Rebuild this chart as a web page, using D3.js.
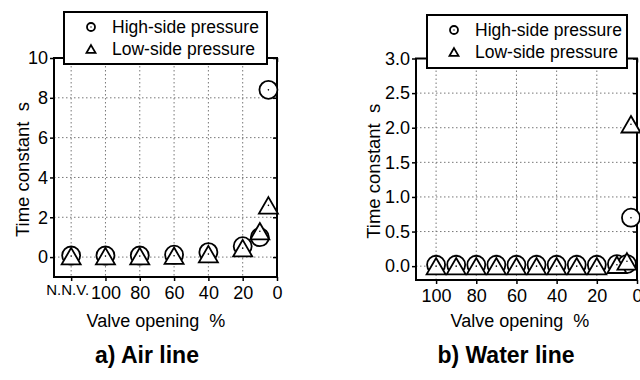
<!DOCTYPE html>
<html>
<head>
<meta charset="utf-8">
<script src="https://cdn.jsdelivr.net/npm/d3@7"></script>
<style>
  body { margin: 0; background: #fff; }
  svg { display: block; font-family: "Liberation Sans", Arial, sans-serif; }
  svg text { white-space: pre; }
  .grid line { stroke: #777; stroke-width: 1; stroke-dasharray: 1.5 2.5; }
</style>
</head>
<body>
<svg id="chart" width="640" height="380"></svg>
<script>
// ---- data ----
// a) Air line ; 120 stands for the N.N.V. slot (no needle valve)
const airOpening = [120, 100, 80, 60, 40, 20, 10, 5];
const airHigh = [0.08, 0.08, 0.08, 0.12, 0.25, 0.55, 1.0, 8.4];
const airLow = [0.05, 0.05, 0.05, 0.07, 0.15, 0.45, 1.3, 2.6];
const airTicks = [120, 100, 80, 60, 40, 20, 0];
const airTickLabels = ['N.N.V.', '100', '80', '60', '40', '20', '0'];
const airYTicks = [0, 2, 4, 6, 8, 10];

// b) Water line
const waterOpening = [100, 90, 80, 70, 60, 50, 40, 30, 20, 10, 5, 3];
const waterHigh = [0.02, 0.02, 0.02, 0.02, 0.02, 0.02, 0.02, 0.02, 0.02, 0.03, 0.03, 0.70];
const waterLow = [0.0, 0.0, 0.0, 0.0, 0.0, 0.0, 0.0, 0.0, 0.0, 0.02, 0.07, 2.05];
const waterTicks = [100, 80, 60, 40, 20, 0];
const waterYTicks = [0, 0.5, 1.0, 1.5, 2.0, 2.5, 3.0];

const legendNames = ['High-side pressure', 'Low-side pressure'];

const svg = d3.select('#chart');

function triPath(cx, cy, s) {
  const h = s * Math.sqrt(3) / 2;
  return 'M' + cx + ',' + (cy - h / 2) + 'L' + (cx + s / 2) + ',' + (cy + h / 2) +
    'L' + (cx - s / 2) + ',' + (cy + h / 2) + 'Z';
}

function drawPanel(p) {
  const g = svg.append('g');
  const x = d3.scaleLinear().domain(p.xDomain).range([p.left, p.right]);
  const y = d3.scaleLinear().domain(p.yDomain).range([p.bottom, p.top]);

  // grid (dotted), skip the ticks that sit on the frame
  g.append('g').attr('class', 'grid')
    .selectAll('line').data(p.xTicks.filter(d => d !== p.xDomain[1])).enter().append('line')
    .attr('x1', d => x(d)).attr('x2', d => x(d))
    .attr('y1', p.top).attr('y2', p.bottom);
  g.append('g').attr('class', 'grid')
    .selectAll('line').data(p.yTicks.filter(d => d !== p.yDomain[1])).enter().append('line')
    .attr('x1', p.left).attr('x2', p.right)
    .attr('y1', d => y(d)).attr('y2', d => y(d));

  // axes
  const ax = g.append('g').attr('transform', 'translate(0,' + p.bottom + ')')
    .call(d3.axisBottom(x).tickValues(p.xTicks).tickSize(4).tickPadding(5)
      .tickFormat((d, i) => p.xLabels[i]));
  const ay = g.append('g').attr('transform', 'translate(' + p.left + ',0)')
    .call(d3.axisLeft(y).tickValues(p.yTicks).tickSize(4).tickPadding(2)
      .tickFormat(p.yFormat));
  g.append('g').attr('transform', 'translate(' + p.right + ',0)')
    .call(d3.axisRight(y).tickValues(p.yTicks).tickSize(-4).tickFormat(''));
  g.append('g').attr('transform', 'translate(0,' + p.top + ')')
    .call(d3.axisTop(x).tickValues(p.xTicks).tickSize(-4).tickFormat(''));
  g.selectAll('.domain').remove();
  g.selectAll('.tick line').attr('stroke', '#000').attr('stroke-width', 1.5);
  [ax, ay].forEach(a => a.selectAll('text')
    .attr('fill', '#000').style('font-size', '18px').style('font-family', 'inherit'));
  ax.selectAll('text').filter(t => t === 120).style('font-size', '15px').attr('dx', -4).attr('dy', '0.6em');

  // frame
  g.append('rect').attr('x', p.left).attr('y', p.top)
    .attr('width', p.right - p.left).attr('height', p.bottom - p.top)
    .attr('fill', 'none').attr('stroke', '#000').attr('stroke-width', 2);

  // markers: circles first, triangles on top
  const pts = g.append('g');
  p.xs.forEach((v, i) => {
    pts.append('circle').attr('cx', x(v)).attr('cy', y(p.high[i])).attr('r', 9)
      .attr('fill', '#fff').attr('stroke', '#000').attr('stroke-width', 1.8);
    pts.append('circle').attr('cx', x(v)).attr('cy', y(p.high[i])).attr('r', 0.8).attr('fill', '#000');
  });
  p.xs.forEach((v, i) => {
    pts.append('path').attr('d', triPath(x(v), y(p.low[i]), 19))
      .attr('fill', '#fff').attr('stroke', '#000').attr('stroke-width', 1.8)
      .attr('stroke-linejoin', 'miter');
    pts.append('circle').attr('cx', x(v)).attr('cy', y(p.low[i])).attr('r', 0.8).attr('fill', '#000');
  });

  // axis titles
  g.append('text').attr('transform', 'translate(' + p.yTitleX + ',' + ((p.top + p.bottom) / 2 + 2) + ') rotate(-90)')
    .attr('text-anchor', 'middle').attr('dy', '0.35em').style('font-size', '18.5px')
    .text('Time constant  s');
  g.append('text').attr('x', p.xTitleX).attr('y', 327).attr('text-anchor', 'middle')
    .style('font-size', '18px').text('Valve opening  %');
  g.append('text').attr('x', p.captionX).attr('y', 363).attr('text-anchor', 'middle')
    .style('font-size', '23px').style('font-weight', 'bold').text(p.caption);

  // legend
  const lg = g.append('g');
  lg.append('rect').attr('x', p.legend[0]).attr('y', p.legend[1])
    .attr('width', p.legend[2]).attr('height', p.legend[3])
    .attr('fill', '#fff').attr('stroke', '#000').attr('stroke-width', 2);
  const sx = p.legend[0] + 27, r1 = p.legend[1] + 15, r2 = p.legend[1] + 37;
  lg.append('circle').attr('cx', sx).attr('cy', r1).attr('r', 4)
    .attr('fill', 'none').attr('stroke', '#000').attr('stroke-width', 1.8);
  lg.append('circle').attr('cx', sx).attr('cy', r1).attr('r', 0.7).attr('fill', '#000');
  lg.append('path').attr('d', triPath(sx, r2, 9))
    .attr('fill', 'none').attr('stroke', '#000').attr('stroke-width', 1.8);
  lg.selectAll('text.lab').data(legendNames).enter().append('text')
    .attr('x', p.legend[0] + 48).attr('y', (d, i) => i ? r2 : r1).attr('dy', '0.35em')
    .style('font-size', '17.5px').text(d => d);
}

drawPanel({
  xs: airOpening, high: airHigh, low: airLow,
  xDomain: [130, 0], yDomain: [-1, 10],
  left: 54, right: 277, top: 58, bottom: 277,
  xTicks: airTicks, xLabels: airTickLabels, yTicks: airYTicks, yFormat: d3.format('d'),
  yTitleX: 23, xTitleX: 156, captionX: 147, caption: 'a) Air line',
  legend: [64, 12, 203, 52]
});

drawPanel({
  xs: waterOpening, high: waterHigh, low: waterLow,
  xDomain: [110, 0], yDomain: [-0.2, 3.0],
  left: 416, right: 637, top: 58.5, bottom: 280,
  xTicks: waterTicks, xLabels: waterTicks.map(String), yTicks: waterYTicks, yFormat: d3.format('.1f'),
  yTitleX: 374, xTitleX: 520, captionX: 506, caption: 'b) Water line',
  legend: [427, 15, 200, 53]
});
</script>
</body>
</html>
